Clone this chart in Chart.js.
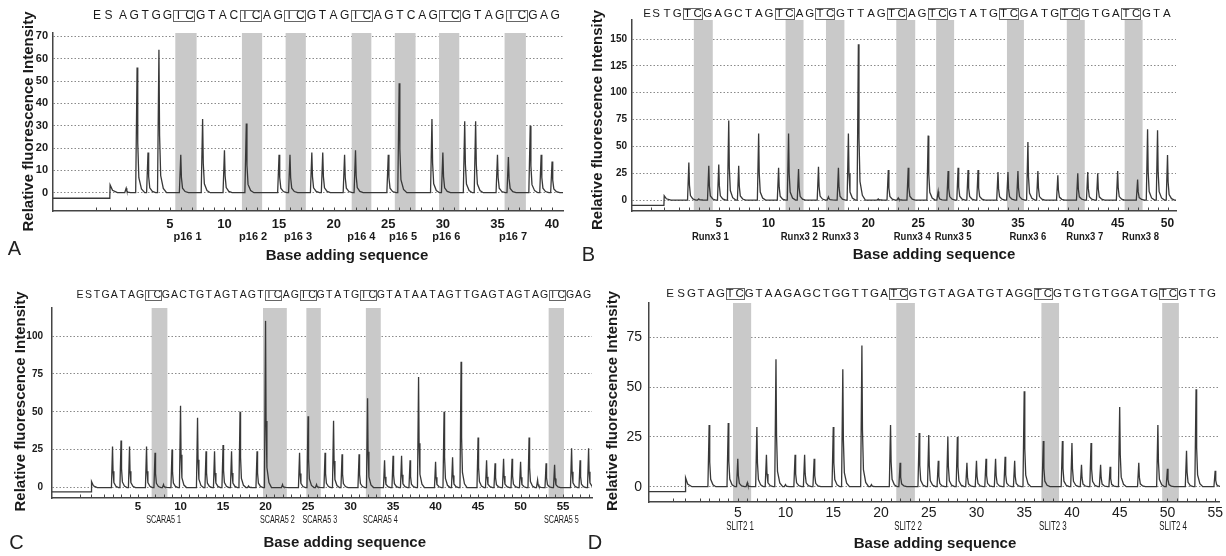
<!DOCTYPE html>
<html>
<head>
<meta charset="utf-8">
<script src="https://cdn.jsdelivr.net/npm/chart.js@4.4.1/dist/chart.umd.min.js"></script>
<style>
  html, body { margin: 0; padding: 0; background: #fff; }
  body { width: 1226px; height: 556px; position: relative; overflow: hidden; }
  canvas { position: absolute; }
</style>
</head>
<body>
<canvas id="chartA"></canvas>
<canvas id="chartB"></canvas>
<canvas id="chartC"></canvas>
<canvas id="chartD"></canvas>
<script>
// peak height per dispensation (1..N)
const heightsA = [2, 56, 18, 64, 0, 17, 0, 33, 0, 19, 0, 31, 0, 0, 17, 17, 0, 18, 18, 0,
                  17, 19, 0, 0, 17, 49, 0, 0, 33, 18, 0, 32, 32, 0, 17, 16, 0, 30, 17, 14];
const heightsB = [0, 35, 1, 32, 33, 74, 32, 0, 62, 0, 30, 62, 29, 0, 31, 3, 30, 62, 145, 0,
                  1, 28, 2, 30, 0, 60, 8, 27, 30, 28, 28, 0, 26, 26, 27, 54, 27, 0, 23, 0,
                  25, 26, 25, 0, 27, 0, 19, 66, 65, 42];
const heightsC = [0, 27, 31, 27, 0, 27, 23, 2, 25, 54, 0, 46, 24, 24, 28, 24, 50, 1, 24, 110,
                  0, 2, 0, 23, 47, 2, 23, 44, 22, 0, 22, 59, 0, 18, 21, 21, 18, 73, 0, 17,
                  50, 20, 83, 0, 33, 18, 16, 19, 19, 17, 33, 5, 16, 15, 0, 26, 18, 26];
const heightsD = [0, 31, 0, 32, 14, 2, 30, 16, 64, 1, 16, 16, 14, 0, 30, 59, 0, 71, 1, 0,
                  31, 12, 0, 27, 26, 13, 25, 25, 12, 13, 14, 14, 15, 13, 48, 0, 23, 0, 23, 22,
                  11, 22, 11, 10, 40, 0, 12, 0, 31, 9, 0, 18, 49, 0, 8];

// sequences printed above each panel, boxed TC pairs given by first letter index
const seqA = 'AGTGGTCGTACTCAGTCGTAGTCAGTCAGTCGTAGTCGAG';
const seqB = 'TGTCGAGCTAGTCAGTCGTTAGTCAGTCGTATGTCGATGTCGTGATCGTA';
const seqC = 'TGATAGTCGACTGTAGTAGTTCAGTCGTATGTCGTATAATAGTTGAGTAGTAGTCGAG';
const seqD = 'GTAGTCGTAAGAGCTGGTTGATCGTGTAGATGTAGGTCGTGTGTGGATGTCGTTG';
const boxesA = [6, 12, 16, 22, 30, 36];
const boxesB = [3, 12, 16, 23, 27, 34, 40, 46];
const boxesC = [7, 21, 25, 32, 54];
const boxesD = [5, 22, 37, 50];

// shaded CpG sites (in dispensation units)
const bandsA = [[5.5, 7.45], [11.6, 13.45], [15.6, 17.45], [21.65, 23.45], [25.6, 27.5], [29.65, 31.5], [35.65, 37.6]];
const bandsB = [[2.5, 4.4], [11.7, 13.5], [15.75, 17.6], [22.8, 24.7], [26.8, 28.6], [33.9, 35.6], [39.9, 41.7], [45.7, 47.5]];
const bandsC = [[6.6, 8.45], [19.7, 22.5], [24.8, 26.5], [31.8, 33.55], [53.3, 55.1]];
const bandsD = [[4.5, 6.4], [21.6, 23.55], [36.8, 38.65], [49.45, 51.2]];

const sitesA = ['p16 1', 'p16 2', 'p16 3', 'p16 4', 'p16 5', 'p16 6', 'p16 7'];
const siteXA = [6.62, 12.63, 16.74, 22.54, 26.35, 30.32, 36.42];
const sitesB = ['Runx3 1', 'Runx3 2', 'Runx3 3', 'Runx3 4', 'Runx3 5', 'Runx3 6', 'Runx3 7', 'Runx3 8'];
const siteXB = [4.16, 13.07, 17.2, 24.4, 28.5, 36.0, 41.7, 47.3];
const sitesC = ['SCARA5 1', 'SCARA5 2', 'SCARA5 3', 'SCARA5 4', 'SCARA5 5'];
const siteXC = [8.0, 21.4, 26.4, 33.5, 54.8];
const sitesD = ['SLIT2 1', 'SLIT2 2', 'SLIT2 3', 'SLIT2 4'];
const siteXD = [5.24, 22.83, 38.0, 50.6];

const yTicksA = [0, 10, 20, 30, 40, 50, 60, 70];
const yTicksB = [0, 25, 50, 75, 100, 125, 150];
const yTicksC = [0, 25, 50, 75, 100];
const yTicksD = [0, 25, 50, 75];
const xLabelsA = [5, 10, 15, 20, 25, 30, 35, 40];
const xLabelsB = [5, 10, 15, 20, 25, 30, 35, 40, 45, 50];
const xLabelsC = [5, 10, 15, 20, 25, 30, 35, 40, 45, 50, 55];
const xLabelsD = [5, 10, 15, 20, 25, 30, 35, 40, 45, 50, 55];

const E_POS = -1.8, S_POS = -0.5;
const FONT = "'Liberation Sans', Arial, sans-serif";
Chart.defaults.font.family = FONT;

// pyrogram trace: flat pre-run level, step at substrate, then one spike per dispensation
function buildTrace(heights, pre, bump, xMin, xMax) {
    const pts = [
        {x: xMin, y: pre}, {x: S_POS, y: pre},
        {x: S_POS + 0.03, y: bump}, {x: S_POS + 0.25, y: bump * 0.3}, {x: S_POS + 0.7, y: 0}
    ];
    heights.forEach((h, i) => {
        const p = i + 1;
        if (h <= 0) return;
        pts.push({x: p - 0.13, y: 0}, {x: p, y: h}, {x: p + 0.06, y: h * 0.4},
                 {x: p + 0.16, y: h * 0.12}, {x: p + 0.4, y: h * 0.03}, {x: p + 0.7, y: 0});
    });
    pts.push({x: xMax, y: 0});
    return pts;
}

function pyroPlugin(p, d) {
    const ox = p.box[0], oy = p.box[1];
    return {
        id: 'pyro',
        beforeDatasetsDraw(chart) {
            const {ctx, chartArea: a, scales: {x}} = chart;
            ctx.save();
            ctx.fillStyle = '#c9c9c9';
            d.bands.forEach(([b0, b1]) => {
                const x0 = x.getPixelForValue(b0), x1 = x.getPixelForValue(b1);
                ctx.fillRect(x0, a.top, x1 - x0, a.bottom - a.top - 1);
            });
            ctx.restore();
        },
        afterDraw(chart) {
            const {ctx, chartArea: a, scales: {x}} = chart;
            ctx.save();

            // small dispensation marks on the x axis, pointing up
            ctx.strokeStyle = '#444';
            ctx.lineWidth = 1;
            const marks = [E_POS, S_POS].concat(d.heights.map((h, i) => i + 1));
            marks.forEach(v => {
                const px = Math.round(x.getPixelForValue(v)) + 0.5;
                ctx.beginPath();
                ctx.moveTo(px, a.bottom - 0.5);
                ctx.lineTo(px, a.bottom - 3.5);
                ctx.stroke();
            });

            // sequence line with boxed TC
            const s = p.seq;
            const sy = s.y - oy;
            ctx.fillStyle = '#1a1a1a';
            ctx.font = s.font;
            ctx.textAlign = 'center';
            ctx.textBaseline = 'middle';
            ctx.fillText('E', s.e - ox, sy);
            ctx.fillText('S', s.s - ox, sy);
            for (let i = 0; i < d.seq.length; i++) {
                ctx.fillText(d.seq[i], s.x0 + i * s.dx - ox, sy);
            }
            ctx.strokeStyle = '#666';
            ctx.lineWidth = 1;
            d.boxes.forEach(k => {
                const cx = s.x0 + (k - 0.5) * s.dx - ox;
                ctx.strokeRect(Math.round(cx - s.dx * 0.95) + 0.5, Math.round(sy - s.boxH / 2) + 0.5,
                               Math.round(s.dx * 1.9), s.boxH);
            });

            // site labels under the axis
            ctx.fillStyle = '#1a1a1a';
            ctx.textBaseline = 'middle';
            d.sites.forEach((name, i) => {
                ctx.save();
                ctx.translate(x.getPixelForValue(d.siteX[i]), p.siteY - oy);
                ctx.scale(p.siteScale, 1);
                ctx.font = p.siteFont;
                ctx.fillText(name, 0, 0);
                ctx.restore();
            });

            // axis titles and panel letter
            ctx.font = 'bold 15px ' + FONT;
            ctx.fillText('Base adding sequence', p.xTitle[0] - ox, p.xTitle[1] - oy);
            ctx.save();
            ctx.translate(p.yTitle[0] - ox, p.yTitle[1] - oy);
            ctx.rotate(-Math.PI / 2);
            ctx.fillText('Relative fluorescence Intensity', 0, 0);
            ctx.restore();
            ctx.font = '20px ' + FONT;
            ctx.fillStyle = '#222';
            ctx.fillText(p.letter, p.letterPos[0] - ox, p.letterPos[1] - oy);
            ctx.restore();
        }
    };
}

function makePanel(id, p, d) {
    const canvas = document.getElementById(id);
    const [ox, oy, w, h] = p.box;
    const [cl, ct, cr, cb] = p.area;
    canvas.width = w;
    canvas.height = h;
    canvas.style.left = ox + 'px';
    canvas.style.top = oy + 'px';

    new Chart(canvas, {
        type: 'line',
        data: {
            datasets: [{
                data: buildTrace(d.heights, p.pre, p.bump, p.xMin, p.xMax),
                borderColor: '#383838',
                borderWidth: 1.3,
                pointRadius: 0,
                tension: 0,
                fill: false
            }]
        },
        options: {
            responsive: false,
            animation: false,
            devicePixelRatio: 1,
            events: [],
            layout: { padding: { left: 0, top: ct - oy, right: ox + w - cr, bottom: 0 } },
            plugins: { legend: { display: false }, tooltip: { enabled: false } },
            scales: {
                x: {
                    type: 'linear',
                    bounds: 'data',
                    min: p.xMin,
                    max: p.xMax,
                    afterFit: s => { s.height = oy + h - cb; },
                    afterBuildTicks: s => { s.ticks = d.xLabels.map(v => ({value: v})); },
                    grid: { display: false, drawTicks: false },
                    border: { display: true, color: '#444', width: 1.5 },
                    ticks: { font: p.xFont, color: '#1a1a1a', padding: p.xPad, maxRotation: 0, autoSkip: false }
                },
                y: {
                    bounds: 'data',
                    min: p.yMin,
                    max: p.yMax,
                    afterFit: s => { s.width = cl - ox; },
                    afterBuildTicks: s => { s.ticks = d.yTicks.map(v => ({value: v})); },
                    grid: { color: '#8a8a8a', lineWidth: 1, drawTicks: false },
                    border: { display: true, color: '#444', width: 1.5, dash: [1.5, 2] },
                    ticks: { font: p.yFont, color: '#1a1a1a', padding: p.yPad, autoSkip: false }
                }
            }
        },
        plugins: [pyroPlugin(p, d)]
    });
}

makePanel('chartA', {
    box: [0, 0, 590, 278], area: [53, 33, 563, 211],
    xMin: -5.7, xMax: 41, yMin: -8.2, yMax: 71.5, pre: -2.5, bump: 3.5,
    yFont: {size: 11, weight: 'bold'}, yPad: 5, xFont: {size: 13, weight: 'bold'}, xPad: 6,
    seq: {e: 97, s: 108.5, x0: 123, dx: 11.08, y: 15.5, font: '12px ' + FONT, boxH: 11},
    siteY: 237, siteFont: 'bold 11px ' + FONT, siteScale: 1,
    yTitle: [28.5, 121.5], xTitle: [347, 255.5], letter: 'A', letterPos: [14.5, 249]
}, {heights: heightsA, seq: seqA, boxes: boxesA, bands: bandsA, sites: sitesA, siteX: siteXA, yTicks: yTicksA, xLabels: xLabelsA});

makePanel('chartB', {
    box: [580, 0, 646, 278], area: [632, 20, 1176, 211],
    xMin: -3.7, xMax: 50.85, yMin: -10.2, yMax: 167.7, pre: -5, bump: 4,
    yFont: {size: 10, weight: 'bold'}, yPad: 5, xFont: {size: 12, weight: 'bold'}, xPad: 5,
    seq: {e: 647, s: 656, x0: 667, dx: 10.2, y: 13.5, font: '11.5px ' + FONT, boxH: 11},
    siteY: 237, siteFont: 'bold 10px ' + FONT, siteScale: 0.95,
    yTitle: [597.5, 120], xTitle: [934, 254.5], letter: 'B', letterPos: [588.5, 255]
}, {heights: heightsB, seq: seqB, boxes: boxesB, bands: bandsB, sites: sitesB, siteX: siteXB, yTicks: yTicksB, xLabels: xLabelsB});

makePanel('chartC', {
    box: [0, 278, 600, 278], area: [52, 308, 592, 498],
    xMin: -5.12, xMax: 58.4, yMin: -6.9, yMax: 118.5, pre: -2.8, bump: 4,
    yFont: {size: 10, weight: 'bold'}, yPad: 9, xFont: {size: 11.5, weight: 'bold'}, xPad: 2,
    seq: {e: 80, s: 88.5, x0: 97, dx: 8.6, y: 295.3, font: '10.5px ' + FONT, boxH: 10},
    siteY: 520.7, siteFont: '10px ' + FONT, siteScale: 0.72,
    yTitle: [21, 401.5], xTitle: [344.7, 543], letter: 'C', letterPos: [16.5, 543]
}, {heights: heightsC, seq: seqC, boxes: boxesC, bands: bandsC, sites: sitesC, siteX: siteXC, yTicks: yTicksC, xLabels: xLabelsC});

makePanel('chartD', {
    box: [580, 278, 646, 278], area: [649, 303, 1220, 502],
    xMin: -4.3, xMax: 55.5, yMin: -7.7, yMax: 92.3, pre: -2.5, bump: 4.5,
    yFont: {size: 14}, yPad: 7, xFont: {size: 14}, xPad: 3,
    seq: {e: 670, s: 681, x0: 691.5, dx: 9.63, y: 293.7, font: '11.5px ' + FONT, boxH: 11},
    siteY: 526.7, siteFont: '12px ' + FONT, siteScale: 0.66,
    yTitle: [613, 401], xTitle: [935, 544], letter: 'D', letterPos: [595, 543]
}, {heights: heightsD, seq: seqD, boxes: boxesD, bands: bandsD, sites: sitesD, siteX: siteXD, yTicks: yTicksD, xLabels: xLabelsD});
</script>
</body>
</html>
